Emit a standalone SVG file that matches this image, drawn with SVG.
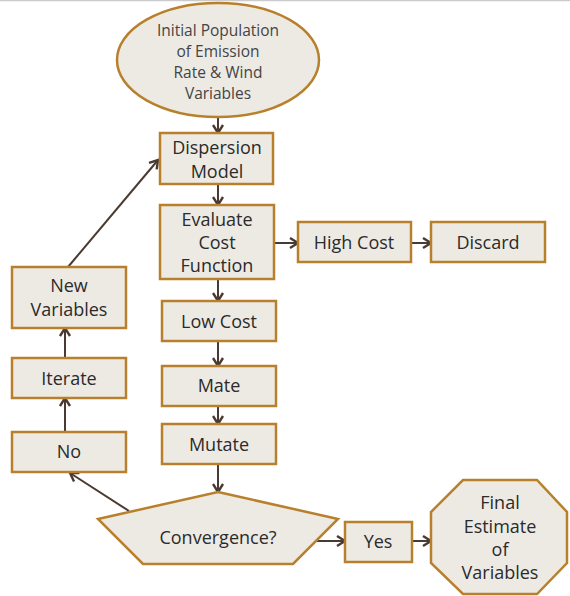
<svg xmlns="http://www.w3.org/2000/svg" width="570" height="596" viewBox="0 0 570 596">
<defs>
<style>
.n{fill:#edeae4;stroke:#b8802c;stroke-width:2.5}
.t{font-family:"Open Sans","Liberation Sans",sans-serif;font-size:18px;fill:#2b2b2b;text-anchor:middle;dominant-baseline:central}
.te{font-family:"Open Sans","Liberation Sans",sans-serif;font-size:15.5px;fill:#444;text-anchor:middle;dominant-baseline:central}
.c{fill:none;stroke:#4b3a32;stroke-width:2;marker-end:url(#a)}
</style>
<marker id="a" markerUnits="userSpaceOnUse" markerWidth="13" markerHeight="13" refX="10" refY="6.5" orient="auto">
<path d="M2,1.5 L10,6.5 L2,11.5" fill="none" stroke="#4b3a32" stroke-width="2.4"/>
</marker>
</defs>
<rect width="570" height="596" fill="#fff"/>
<line x1="0" y1="0.5" x2="570" y2="0.5" stroke="#cccccc" stroke-width="1.5"/>
<g id="connectors">
<line class="c" x1="218" y1="117" x2="218" y2="133"/>
<line class="c" x1="218" y1="184" x2="218" y2="205"/>
<line class="c" x1="274" y1="243" x2="298" y2="243"/>
<line class="c" x1="411" y1="243" x2="431" y2="243"/>
<line class="c" x1="218" y1="279" x2="218" y2="301"/>
<line class="c" x1="218" y1="341" x2="218" y2="366"/>
<line class="c" x1="218" y1="406" x2="218" y2="424"/>
<line class="c" x1="218" y1="464" x2="218" y2="492"/>
<line class="c" x1="317" y1="541" x2="345" y2="541"/>
<line class="c" x1="412" y1="541" x2="431" y2="541"/>
<line class="c" x1="129" y1="511" x2="70" y2="473"/>
<line class="c" x1="65" y1="432" x2="65" y2="398"/>
<line class="c" x1="65" y1="358" x2="65" y2="328"/>
<line class="c" x1="68" y1="267" x2="158" y2="160"/>
</g>
<g id="initial">
<ellipse class="n" cx="218" cy="60" rx="101" ry="57"/>
<text class="te" x="218" y="30">Initial Population</text>
<text class="te" x="218" y="51">of Emission</text>
<text class="te" x="218" y="72">Rate &amp; Wind</text>
<text class="te" x="218" y="93">Variables</text>
</g>
<g id="dispersion">
<rect class="n" x="160" y="133" width="113" height="51"/>
<text class="t" x="217" y="147">Dispersion</text>
<text class="t" x="217" y="171">Model</text>
</g>
<g id="evaluate">
<rect class="n" x="160" y="205" width="114" height="74"/>
<text class="t" x="217" y="219">Evaluate</text>
<text class="t" x="217" y="242">Cost</text>
<text class="t" x="217" y="265">Function</text>
</g>
<g id="highcost">
<rect class="n" x="298" y="222" width="113" height="40"/>
<text class="t" x="354" y="242">High Cost</text>
</g>
<g id="discard">
<rect class="n" x="431" y="222" width="114" height="40"/>
<text class="t" x="488" y="242">Discard</text>
</g>
<g id="lowcost">
<rect class="n" x="162" y="301" width="114" height="40"/>
<text class="t" x="219" y="321">Low Cost</text>
</g>
<g id="mate">
<rect class="n" x="162" y="366" width="114" height="40"/>
<text class="t" x="219" y="385">Mate</text>
</g>
<g id="mutate">
<rect class="n" x="162" y="424" width="114" height="40"/>
<text class="t" x="219" y="444">Mutate</text>
</g>
<g id="newvars">
<rect class="n" x="12" y="267" width="114" height="61"/>
<text class="t" x="69" y="285">New</text>
<text class="t" x="69" y="309">Variables</text>
</g>
<g id="iterate">
<rect class="n" x="12" y="358" width="114" height="40"/>
<text class="t" x="69" y="378">Iterate</text>
</g>
<g id="no">
<rect class="n" x="12" y="432" width="114" height="40"/>
<text class="t" x="69" y="451">No</text>
</g>
<g id="convergence">
<polygon class="n" points="218,492 338,519 293,564 143,564 98,519"/>
<text class="t" x="218" y="537">Convergence?</text>
</g>
<g id="yes">
<rect class="n" x="345" y="522" width="67" height="40"/>
<text class="t" x="378" y="541">Yes</text>
</g>
<g id="final">
<polygon class="n" points="463,480 537,480 567,512 567,563 537,594 463,594 431,563 431,512"/>
<text class="t" x="500" y="502">Final</text>
<text class="t" x="500" y="526">Estimate</text>
<text class="t" x="500" y="549">of</text>
<text class="t" x="500" y="572">Variables</text>
</g>
</svg>
